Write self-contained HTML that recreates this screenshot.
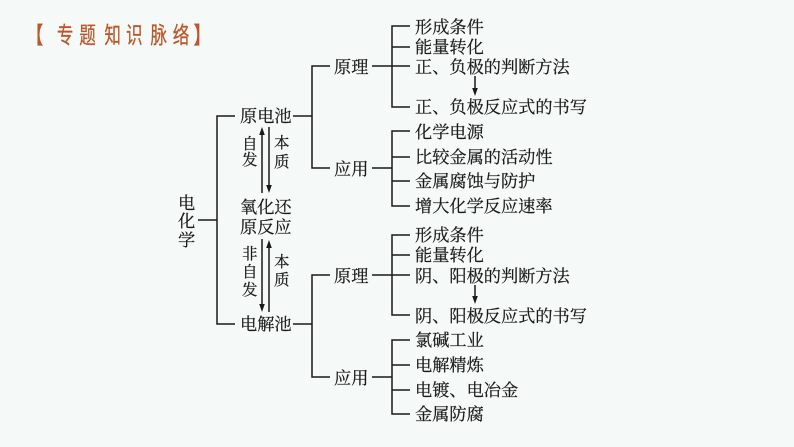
<!DOCTYPE html>
<html lang="zh"><head><meta charset="utf-8"><style>
html,body{margin:0;padding:0;background:#f5faf8;width:794px;height:447px;overflow:hidden}
svg{display:block}
text{font-family:"Liberation Serif","Noto Serif CJK SC",serif;font-size:17.2px;fill:#1a1a1a;stroke:#1a1a1a;stroke-width:.22px}
.s{font-size:15.5px}
.t{font-family:"Liberation Sans","Noto Sans CJK SC",sans-serif;font-size:23px;fill:#b9582c;stroke:#b9582c;stroke-width:.3px}
</style></head><body>
<svg width="794" height="447" viewBox="0 0 794 447" xmlns="http://www.w3.org/2000/svg">
<rect width="794" height="447" fill="#f5faf8"/>
<g transform="scale(.72 1)">
<text class="t" x="37" y="43" font-weight="700">【</text>
<text class="t" x="79" y="43">专</text><text class="t" x="110" y="43">题</text><text class="t" x="145" y="43">知</text><text class="t" x="175" y="43">识</text><text class="t" x="209" y="43">脉</text><text class="t" x="240" y="43">络</text>
<text class="t" x="269" y="43" font-weight="700">】</text>
</g>
<g stroke="#1a1a1a" stroke-width="1.5" fill="none">
<path d="M198 220H217M235 116H217V324H235"/>
<path d="M293 116H312M330 66H312V168H330"/>
<path d="M293 324H312M330 275H312V377H330"/>
<path d="M372 66H410M410 26H392V107H410M392 47H410"/>
<path d="M372 168H392M410 131H392V206H410M392 157H410M392 181H410"/>
<path d="M372 275H410M410 235H392V315H410M392 255H410"/>
<path d="M372 377H392M410 340H392V414H410M392 365H410M392 390H410"/>
<path d="M262 133V193M269 127V187M262 239V306M269 246V312M475 76V90M475 285V298"/>
</g>
<g fill="#1a1a1a">
<path d="M262 127l-2.8 8h5.6z"/>
<path d="M269 193l-2.8-8h5.6z"/>
<path d="M262 312l-2.8-8h5.6z"/>
<path d="M269 240l-2.8 8h5.6z"/>
<path d="M475 96l-2.8-8h5.6z"/>
<path d="M475 304l-2.8-8h5.6z"/>
</g>
<text x="178" y="209">电</text><text x="178" y="227">化</text><text x="178" y="246">学</text>
<text x="240" y="122">原电池</text>
<text x="240" y="213">氧化还</text>
<text x="240" y="233">原反应</text>
<text x="240" y="330">电解池</text>
<text class="s" x="242" y="149">自</text><text class="s" x="242" y="165">发</text>
<text class="s" x="274" y="148">本</text><text class="s" x="274" y="167">质</text>
<text class="s" x="242" y="259">非</text><text class="s" x="242" y="277">自</text><text class="s" x="242" y="295">发</text>
<text class="s" x="274" y="267">本</text><text class="s" x="274" y="285">质</text>
<text x="334" y="73">原理</text>
<text x="334" y="175">应用</text>
<text x="334" y="282">原理</text>
<text x="334" y="384">应用</text>
<text x="415" y="33">形成条件</text>
<text x="415" y="53">能量转化</text>
<text x="415" y="73">正、负极的判断方法</text>
<text x="415" y="113">正、负极反应式的书写</text>
<text x="415" y="138">化学电源</text>
<text x="415" y="163">比较金属的活动性</text>
<text x="415" y="187">金属腐蚀与防护</text>
<text x="415" y="212">增大化学反应速率</text>
<text x="415" y="241">形成条件</text>
<text x="415" y="261">能量转化</text>
<text x="415" y="282">阴、阳极的判断方法</text>
<text x="415" y="322">阴、阳极反应式的书写</text>
<text x="415" y="346">氯碱工业</text>
<text x="415" y="371">电解精炼</text>
<text x="415" y="396">电镀、电冶金</text>
<text x="415" y="420">金属防腐</text>
</svg>
</body></html>
